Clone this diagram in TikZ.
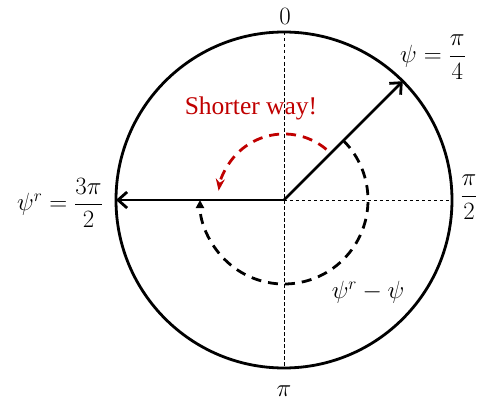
\documentclass[tikz,border=0pt]{standalone}
\usepackage{amsmath}
\usepackage[no-math]{fontspec}
\setmainfont{Liberation Serif}
\usetikzlibrary{arrows.meta}
\definecolor{wayred}{RGB}{192,0,0}

\begin{document}
\begin{tikzpicture}[x=1pt,y=1pt,
  lbl/.style={inner sep=0pt,font=\fontsize{27}{32}\selectfont},
  axisline/.style={line width=0.9pt,dash pattern=on 3.5pt off 2.5pt},
  vec/.style={line width=2.8pt,-{Straight Barb[length=9pt,width=16pt,line width=2.8pt]}},
  turn/.style={line width=2.8pt,dash pattern=on 10pt off 7pt}]
\useasboundingbox (-284,-202) rectangle (196,200);
\coordinate (o) at (0,0);
\coordinate (top) at (90:168);
\coordinate (bot) at (-90:168);
\coordinate (rgt) at (0:168);
\coordinate (psi) at (45:168);
\coordinate (psir) at (180:168);
% axes
\draw[axisline] (top) -- (bot);
\draw[axisline] (o) -- (rgt);
\draw[line width=2.8pt] (o) circle[radius=168];
% angles
\draw[turn,-{Triangle[length=8pt,width=8pt]}] (45:84) arc[start angle=45,end angle=-180,radius=84];
\draw[turn,wayred,-{Stealth[length=12pt,width=9pt]}] (50:66) arc[start angle=50,end angle=172,radius=66];
% vectors
\draw[vec] (o) -- (psi);
\draw[vec] (o) -- (psir);
% labels
\node[lbl] (zero) at (1,184) {$0$};
\node[lbl] (pi) at (0,-191) {$\pi$};
\node[lbl] (half) at (185,3) {$\dfrac{\pi}{2}$};
\node[lbl] (psilbl) at (149,143) {$\psi=\dfrac{\pi}{4}$};
\node[lbl] (psirlbl) at (-224,-3) {$\psi^r=\dfrac{3\pi}{2}$};
\node[lbl,font=\fontsize{25.5}{30}\selectfont,text=wayred] (way) at (-33,92) {Shorter way!};
\node[lbl] (diff) at (84,-92) {$\psi^r-\psi$};
\end{tikzpicture}
\end{document}
